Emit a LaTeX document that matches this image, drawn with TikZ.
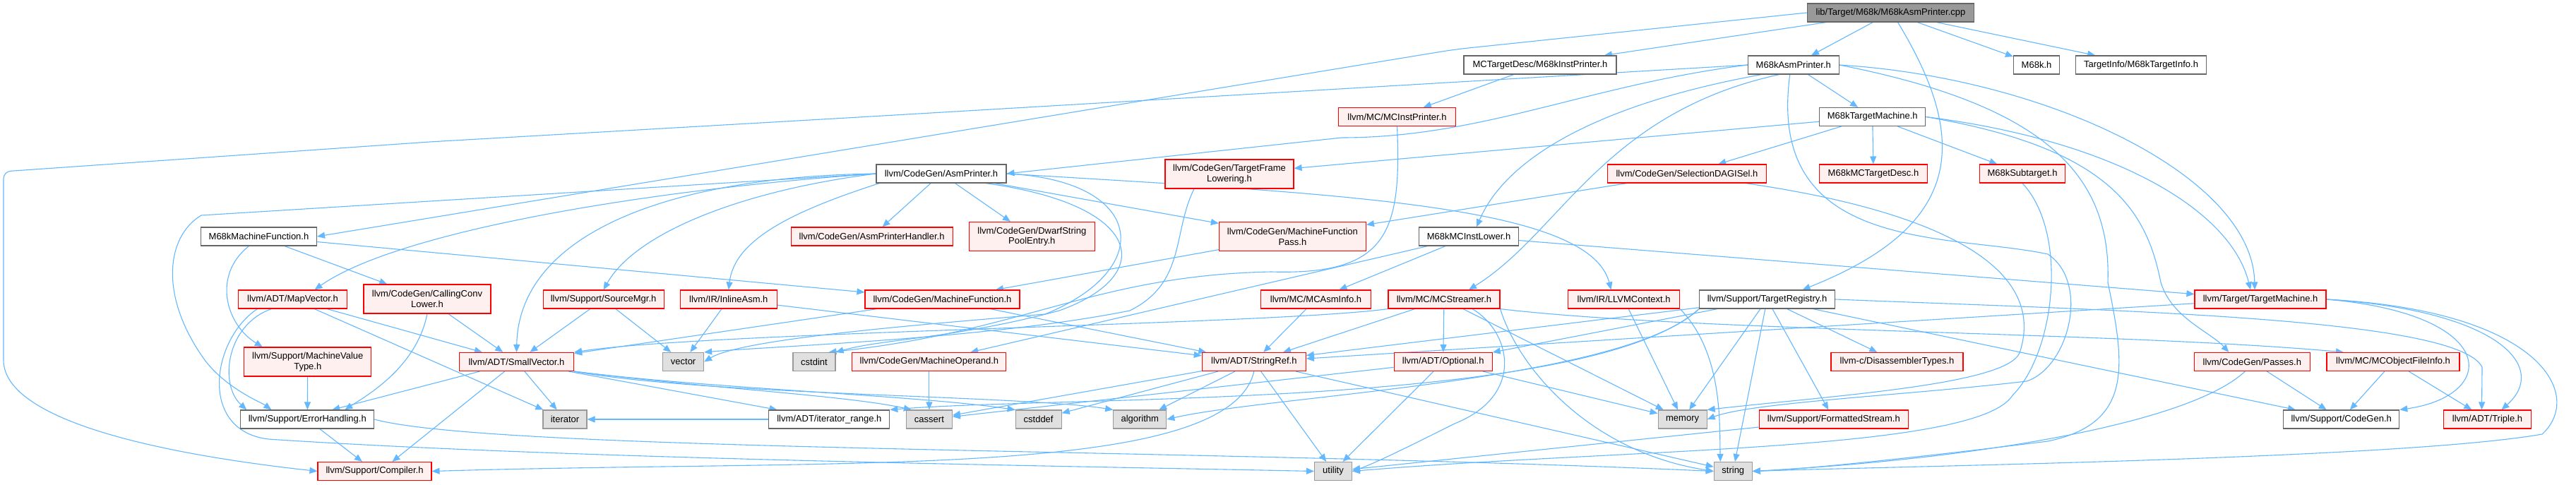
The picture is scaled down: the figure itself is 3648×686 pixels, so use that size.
\documentclass[tikz,border=0pt]{standalone}
\usepackage{fontspec}
\setmainfont{Liberation Sans}
\usetikzlibrary{arrows.meta}
\pgfdeclarelayer{edgelayer}
\pgfsetlayers{edgelayer,main}
\definecolor{edgeblue}{HTML}{63B8FF}
\definecolor{redfill}{HTML}{FFF0F0}
\definecolor{grayfill}{HTML}{E0E0E0}
\definecolor{graydraw}{HTML}{999999}
\definecolor{whitedraw}{HTML}{666666}
\definecolor{rootfill}{HTML}{999999}
\begin{document}
\begin{tikzpicture}[x=1pt,y=-1pt,
  box/.style={draw, line width=1.1pt, inner xsep=3pt, inner ysep=0pt, minimum height=26pt, font=\fontsize{13}{14.7}\selectfont, align=center},
  wbox/.style={box, draw=whitedraw, fill=white},
  rbox/.style={box, draw=red, fill=redfill},
  gbox/.style={box, draw=graydraw, fill=grayfill},
  rootbox/.style={box, draw=whitedraw, fill=rootfill},
  two/.style={minimum height=41pt},
  e/.style={draw=edgeblue, line width=1.1pt, -{Triangle[length=11pt,width=9pt]}}
]
\useasboundingbox (0,0) rectangle (3648,686);
% nodes
\node[rootbox, minimum width=236pt] (root) at (2677.5,18) {lib/Target/M68k/M68kAsmPrinter.cpp};
\node[wbox, minimum width=129pt] (asmh) at (2539.8,92) {M68kAsmPrinter.h};
\node[wbox, minimum width=65pt] (m68kh) at (2884,92) {M68k.h};
\node[wbox, minimum width=185pt] (tinfo) at (3032,92) {TargetInfo/M68kTargetInfo.h};
\node[wbox, minimum width=216pt] (instp) at (2181,92) {MCTargetDesc/M68kInstPrinter.h};
\node[wbox, minimum width=150pt] (tm) at (2651.7,165.5) {M68kTargetMachine.h};
\node[rbox, minimum width=166pt] (mcip) at (1978.5,165.5) {llvm/MC/MCInstPrinter.h};
\node[wbox, minimum width=184pt] (ap) at (1333,246) {llvm/CodeGen/AsmPrinter.h};
\node[rbox, two, minimum width=182pt] (tfl) at (1741,246.5) {llvm/CodeGen/TargetFrame\\Lowering.h};
\node[rbox, minimum width=225pt] (sdag) at (2389,246) {llvm/CodeGen/SelectionDAGISel.h};
\node[rbox, minimum width=153pt] (mctd) at (2653,246) {M68kMCTargetDesc.h};
\node[rbox, minimum width=121pt] (sub) at (2864,246) {M68kSubtarget.h};
\node[wbox, minimum width=164pt] (mfn) at (366.5,335) {M68kMachineFunction.h};
\node[rbox, minimum width=229pt] (aph) at (1234.6,335) {llvm/CodeGen/AsmPrinterHandler.h};
\node[rbox, two, minimum width=178pt] (dsp) at (1461.3,335) {llvm/CodeGen/DwarfString\\PoolEntry.h};
\node[rbox, two, minimum width=208pt] (mfp) at (1830.4,335) {llvm/CodeGen/MachineFunction\\Pass.h};
\node[wbox, minimum width=141pt] (mil) at (2080,335) {M68kMCInstLower.h};
\node[rbox, minimum width=154pt] (mapv) at (414.5,424) {llvm/ADT/MapVector.h};
\node[rbox, two, minimum width=180pt] (ccl) at (605,423.5) {llvm/CodeGen/CallingConv\\Lower.h};
\node[rbox, minimum width=171pt] (srcmgr) at (854.6,424) {llvm/Support/SourceMgr.h};
\node[rbox, minimum width=137pt] (iasm) at (1031.8,424) {llvm/IR/InlineAsm.h};
\node[rbox, minimum width=219pt] (mf) at (1334.5,424) {llvm/CodeGen/MachineFunction.h};
\node[rbox, minimum width=156pt] (mai) at (1863.5,424) {llvm/MC/MCAsmInfo.h};
\node[rbox, minimum width=158pt] (mcs) at (2045,424) {llvm/MC/MCStreamer.h};
\node[rbox, minimum width=158pt] (llctx) at (2299.6,424) {llvm/IR/LLVMContext.h};
\node[wbox, minimum width=192pt] (treg) at (2502.5,424) {llvm/Support/TargetRegistry.h};
\node[rbox, minimum width=186pt] (ttm) at (3201,424) {llvm/Target/TargetMachine.h};
\node[rbox, two, minimum width=180pt] (mvt) at (435.8,512.5) {llvm/Support/MachineValue\\Type.h};
\node[rbox, minimum width=162pt] (sv) at (731.5,512.5) {llvm/ADT/SmallVector.h};
\node[gbox, minimum width=58pt] (vector) at (967.6,512.5) {vector};
\node[gbox, minimum width=60pt] (cstdint) at (1153,512.5) {cstdint};
\node[rbox, minimum width=218pt] (mop) at (1315.9,512.5) {llvm/CodeGen/MachineOperand.h};
\node[rbox, minimum width=147pt] (sref) at (1775.8,512.5) {llvm/ADT/StringRef.h};
\node[rbox, minimum width=139pt] (opt) at (2043.7,512.5) {llvm/ADT/Optional.h};
\node[rbox, minimum width=187pt] (disas) at (2686.5,512.5) {llvm-c/DisassemblerTypes.h};
\node[rbox, minimum width=164pt] (passes) at (3189.3,512.5) {llvm/CodeGen/Passes.h};
\node[rbox, minimum width=188pt] (mcofi) at (3389,512.5) {llvm/MC/MCObjectFileInfo.h};
\node[wbox, minimum width=189pt] (err) at (435.3,594) {llvm/Support/ErrorHandling.h};
\node[gbox, minimum width=62pt] (iter) at (800,594) {iterator};
\node[wbox, minimum width=171pt] (iterr) at (1174.3,594) {llvm/ADT/iterator\_range.h};
\node[gbox, minimum width=65pt] (cassert) at (1315.9,594) {cassert};
\node[gbox, minimum width=65pt] (cstddef) at (1470.6,594) {cstddef};
\node[gbox, minimum width=75pt] (algorithm) at (1614.3,594) {algorithm};
\node[gbox, minimum width=69pt] (memory) at (2382.6,594) {memory};
\node[rbox, minimum width=211pt] (fstream) at (2596.8,594) {llvm/Support/FormattedStream.h};
\node[wbox, minimum width=164pt] (cgen) at (3315.7,594) {llvm/Support/CodeGen.h};
\node[rbox, minimum width=124pt] (triple) at (3522.5,594) {llvm/ADT/Triple.h};
\node[rbox, minimum width=161pt] (comp) at (530.5,667.5) {llvm/Support/Compiler.h};
\node[gbox, minimum width=53pt] (utility) at (1888,667.5) {utility};
\node[gbox, minimum width=54pt] (string) at (2454.3,667.5) {string};
% edges
\begin{pgfonlayer}{edgelayer}
\fill[white] (0,0) rectangle (3648,686);
\draw[e] (root) -- (asmh);
\draw[e] (root) -- (m68kh);
\draw[e] (root) -- (tinfo);
\draw[e] (root) -- (instp);
\draw[e, rounded corners=20pt] (root.west) -- (2060,70) -- (mfn.east);
\draw[e] ([xshift=10pt]root.south) .. controls (2790,200) and (2780,320) .. ([xshift=50pt]treg.north);
\draw[e] (instp) -- (mcip);
\draw[e] (asmh) -- (tm);
\draw[e] (asmh.west) .. controls (2250,120) and (2100,195) .. (1900,195) -- (ap.east);
\draw[e] ([xshift=20pt]asmh.south west) .. controls (2250,150) and (2130,230) .. ([xshift=11pt]mil.north);
\draw[e] ([xshift=-20pt]asmh.south) .. controls (2270,160) and (2210,330) .. ([xshift=35pt]mcs.north);
\draw[e] (asmh.east) .. controls (2900,110) and (3190,250) .. ([xshift=-8pt]ttm.north);
\draw[e, rounded corners=10pt] (asmh.west) -- (1216,166) -- (608,201) -- (5,243) -- (5,500) .. controls (5,590) and (200,640) .. (comp.west);
\draw[e] ([xshift=-5pt]asmh.south) .. controls (2500,360) and (2760,330) .. (2900,360) .. controls (2960,400) and (2930,520) .. (2870,540) .. controls (2700,560) and (2480,570) .. (memory.east);
\draw[e] (asmh.east) .. controls (2900,150) and (2990,250) .. (2985,400) .. controls (3010,520) and (3020,600) .. (2900,625) .. controls (2700,650) and (2550,665) .. (string.east);
\draw[e] (tm) -- (tfl);
\draw[e] (tm) -- (sdag);
\draw[e] (tm) -- (mctd);
\draw[e] (tm) -- (sub);
\draw[e] (tm.east) .. controls (3000,200) and (3160,300) .. ([xshift=-14pt]ttm.north);
\draw[e] (tm.east) .. controls (2990,210) and (3040,300) .. (3060,400) .. controls (3075,450) and (3130,470) .. ([xshift=-33pt]passes.north);
\draw[e] (mcip.south) .. controls (1985,330) and (1965,390) .. (1800,385) .. controls (1550,390) and (1450,470) .. ([xshift=-10pt]cstdint.north east);
\draw[e] ([xshift=-50pt]tfl.south) .. controls (1660,330) and (1680,400) .. (1600,440) .. controls (1400,480) and (1100,490) .. (vector.north east);
\draw[e] (sdag) -- (mfp);
\draw[e] ([xshift=-30pt]sdag.south east) .. controls (2750,300) and (2900,380) .. (2860,500) .. controls (2840,545) and (2600,560) .. (memory.north east);
\draw[e] (sub.south) .. controls (2930,330) and (2910,500) .. (2850,560) .. controls (2800,640) and (2300,635) .. (utility.east);
\draw[e] (ap) -- (aph);
\draw[e] (ap) -- (dsp);
\draw[e] (ap) -- (mfp);
\draw[e] (ap.west) .. controls (900,270) and (560,330) .. ([xshift=31pt]mapv.north);
\draw[e] (ap.west) .. controls (1050,270) and (900,330) .. (srcmgr.north);
\draw[e] ([xshift=5pt]ap.south west) .. controls (1120,300) and (1040,340) .. (iasm.north);
\draw[e] (ap.west) .. controls (950,250) and (735,330) .. (sv.north);
\draw[e] (ap.west) -- (285,305) .. controls (235,335) and (225,420) .. (290,510) .. controls (320,550) and (370,570) .. ([xshift=-51pt]err.north);
\draw[e] (ap.east) .. controls (1620,255) and (1640,380) .. (1480,445) .. controls (1300,460) and (1050,480) .. (vector.east);
\draw[e] ([xshift=-30pt]ap.south east) .. controls (1620,290) and (1640,390) .. (1500,440) .. controls (1350,480) and (1250,480) .. (cstdint.north east);
\draw[e] (ap.east) .. controls (1900,275) and (2250,290) .. ([xshift=-18pt]llctx.north);
\draw[e] (mfn) -- (ccl);
\draw[e] (mfn) -- (mf);
\draw[e] ([xshift=-14pt]mfn.south) .. controls (300,390) and (320,460) .. ([xshift=-64pt]mvt.north);
\draw[e] (mfp) -- (mf);
\draw[e] (mil) -- (mop);
\draw[e] (mil) -- (ttm);
\draw[e] (mil) -- (mai);
\draw[e] (mapv) -- (sv);
\draw[e] (mapv) -- (iter);
\draw[e] ([xshift=-30pt]mapv.south) .. controls (320,460) and (310,545) .. ([xshift=-86pt]err.north);
\draw[e] ([xshift=-50pt]mapv.south) .. controls (300,480) and (280,610) .. (380,622) .. controls (800,650) and (1500,660) .. (utility.west);
\draw[e] (ccl) -- (sv);
\draw[e] (ccl.south) .. controls (590,520) and (520,560) .. ([xshift=53pt]err.north);
\draw[e] (srcmgr) -- (sv);
\draw[e] (srcmgr) -- (vector);
\draw[e] (iasm) -- (vector);
\draw[e] (iasm) -- (sref);
\draw[e] (mf) -- (sv);
\draw[e] (mf) -- (sref);
\draw[e] (mai) -- (sref);
\draw[e] (mcs) -- (opt);
\draw[e] (mcs.south west) .. controls (1800,460) and (1000,470) .. (sv.north east);
\draw[e] (mcs) -- (sref);
\draw[e] (mcs) -- (memory);
\draw[e] (mcs.south east) .. controls (2150,520) and (2250,640) .. (string.west);
\draw[e] ([xshift=40pt]mcs.south) .. controls (2140,470) and (2160,560) .. (2060,600) .. controls (2000,630) and (1950,655) .. (utility.east);
\draw[e] (mcs.south east) .. controls (2400,470) and (3000,470) .. ([xshift=-70pt]mcofi.north);
\draw[e] (llctx) -- (memory);
\draw[e] (llctx.south east) .. controls (2440,500) and (2435,600) .. ([xshift=-18pt]string.north);
\draw[e] (treg) -- (disas);
\draw[e] (treg) -- (fstream);
\draw[e] (treg) -- (opt);
\draw[e] (treg) -- (sref);
\draw[e] (treg.east) .. controls (3000,440) and (3480,450) .. (3515,520) -- ([xshift=-8pt]triple.north);
\draw[e] (treg) -- (cgen);
\draw[e] (treg.south west) .. controls (2300,540) and (1800,560) .. (algorithm.east);
\draw[e] (treg.south west) .. controls (2250,580) and (1500,560) .. (iterr.north east);
\draw[e] (treg) -- (memory);
\draw[e] (treg) -- (string);
\draw[e] (ttm.east) .. controls (3540,440) and (3610,520) .. ([xshift=20pt]triple.north);
\draw[e] (ttm.east) .. controls (3540,445) and (3540,560) .. (cgen.north east);
\draw[e] (ttm.east) .. controls (3600,440) and (3660,560) .. (3600,615) .. controls (3400,650) and (2700,660) .. (string.east);
\draw[e] (ttm) -- (sref);
\draw[e] (mvt) -- (err);
\draw[e] (sv) -- ([xshift=35pt]err.north);
\draw[e] (sv) -- ([xshift=25pt]comp.north);
\draw[e] (sv) -- (iter);
\draw[e] (sv) -- (iterr);
\draw[e] (sv.south east) .. controls (1000,560) and (1450,560) .. (algorithm.north west);
\draw[e] (sv.south east) .. controls (1000,550) and (1200,560) .. ([xshift=8pt]cassert.north west);
\draw[e] (sv.south east) .. controls (1000,550) and (1300,560) .. (cstddef.north west);
\draw[e] (mop) -- (cassert);
\draw[e] (sref.south) .. controls (1740,680) and (1200,650) .. (comp.east);
\draw[e] (sref) -- (algorithm);
\draw[e] (sref) -- (cassert);
\draw[e] (sref) -- (cstddef);
\draw[e] (sref) -- (string);
\draw[e] (sref) -- (utility);
\draw[e] (opt) -- (cassert);
\draw[e] (opt) -- (utility);
\draw[e] (opt) -- (memory);
\draw[e] (passes) -- (cgen);
\draw[e] ([xshift=-10pt]passes.south) .. controls (3100,600) and (2800,650) .. (string.east);
\draw[e] (mcofi) -- (cgen);
\draw[e] (mcofi) -- (triple);
\draw[e] (err) -- (comp);
\draw[e] (err.east) .. controls (700,640) and (1700,635) .. (string.west);
\draw[e] (iterr) -- (iter);
\draw[e] (fstream) -- (utility);
\end{pgfonlayer}
\end{tikzpicture}
\end{document}
